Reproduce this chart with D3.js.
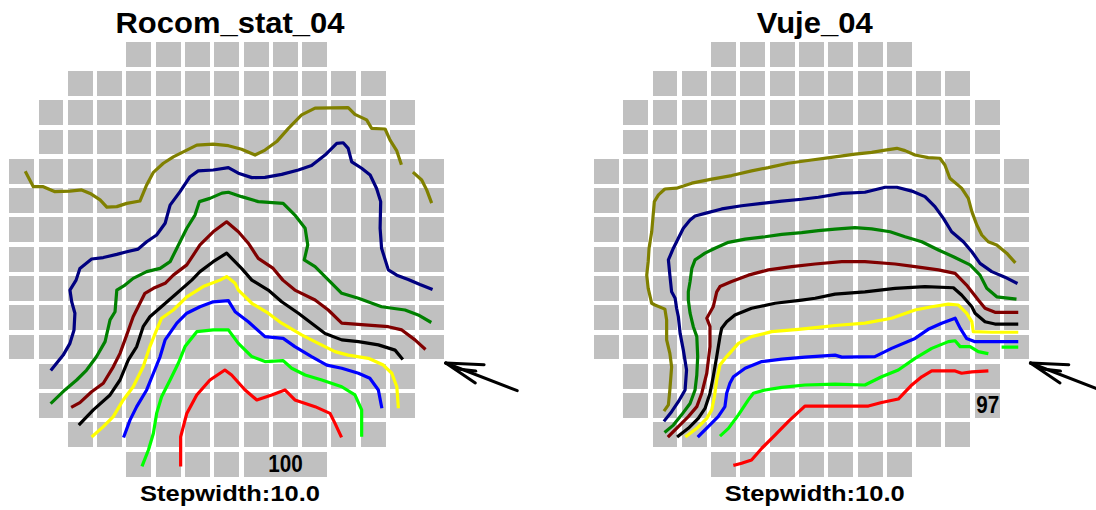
<!DOCTYPE html>
<html>
<head>
<meta charset="utf-8">
<script src="https://cdn.jsdelivr.net/npm/d3@7/dist/d3.min.js"></script>
<style>
  html, body { margin: 0; padding: 0; background: #ffffff; }
  svg { display: block; }
</style>
</head>
<body>
<svg id="chart" width="1096" height="510"></svg>
<script>
// ---- Core layout: 15 x 15 assembly positions, first/last column of every row ----
const rowFirst = [4, 2, 1, 1, 0, 0, 0, 0, 0, 0, 0, 1, 1, 2, 4];
const rowLast  = [10, 12, 13, 13, 14, 14, 14, 14, 14, 14, 14, 13, 13, 12, 10];

// ---- Contour levels (outermost to innermost) ----
const levels = [10, 20, 30, 40, 50, 60, 70, 80, 90];
const levelColors = ["#808000", "#000080", "#008000", "#800000", "#000000",
                     "#ffff00", "#0000ff", "#00ff00", "#ff0000"];

// ---- Rocom_stat_04 contours, in assembly units [column, row]; null breaks a line ----
const rocom10 = [[0.57,4.47],[0.82,4.95],[1.16,4.95],[1.56,5.12],[2.07,5.10],[2.47,5.06],[2.76,5.18],[3.10,5.40],[3.33,5.65],[3.67,5.63],[4.01,5.52],[4.46,5.44],[4.69,4.89],[4.92,4.46],[5.26,4.15],[5.60,3.93],[6.06,3.70],[6.40,3.53],[6.96,3.50],[7.48,3.55],[7.93,3.67],[8.39,3.87],[8.73,3.70],[9.13,3.41],[9.53,2.96],[9.98,2.50],[10.44,2.27],[11.57,2.25],[11.80,2.48],[12.20,2.67],[12.37,2.96],[12.83,2.98],[13.00,3.36],[13.23,3.73],[13.37,4.15],
  null,[13.82,4.49],[14.08,4.72],[14.25,5.06],[14.40,5.46]];
const rocom20 = [[1.45,11.18],[1.84,10.70],[2.07,10.30],[2.21,9.84],[2.24,9.27],[2.13,8.88],[2.07,8.48],[2.28,8.14],[2.41,7.74],[2.81,7.42],[3.21,7.37],[3.67,7.26],[4.01,7.17],[4.40,7.08],[4.69,6.83],[5.03,6.60],[5.32,6.20],[5.49,5.58],[5.83,5.12],[6.17,4.61],[6.45,4.41],[6.96,4.38],[7.48,4.30],[7.82,4.49],[8.28,4.64],[8.73,4.63],[9.30,4.53],[9.87,4.38],[10.32,4.23],[10.78,3.87],[11.18,3.47],[11.40,3.45],[11.57,3.64],[11.69,4.10],[12.03,4.32],[12.32,4.55],[12.54,5.01],[12.68,5.46],[12.66,6.37],[12.71,7.05],[12.94,7.79],[13.23,7.97],[13.62,8.12],[14.02,8.29],[14.40,8.44]];
const rocom30 = [[1.45,12.32],[1.90,11.89],[2.30,11.55],[2.64,11.21],[2.98,10.75],[3.27,10.24],[3.44,9.50],[3.61,9.22],[3.67,8.48],[3.95,8.31],[4.23,8.08],[4.69,7.85],[5.15,7.74],[5.49,7.51],[5.72,7.05],[6.06,6.37],[6.34,5.92],[6.49,5.46],[6.85,5.35],[7.26,5.17],[7.48,5.14],[7.93,5.29],[8.50,5.46],[9.35,5.52],[9.75,5.92],[10.10,6.37],[10.19,6.94],[10.07,7.45],[10.44,7.68],[11.01,8.25],[11.35,8.59],[11.92,8.76],[12.71,9.05],[13.51,9.16],[13.96,9.33],[14.36,9.56]];
const rocom40 = [[2.16,12.46],[2.41,12.32],[2.81,11.95],[3.21,11.66],[3.55,11.10],[3.78,10.64],[4.01,10.01],[4.23,9.39],[4.46,8.93],[4.63,8.59],[4.92,8.42],[5.32,8.25],[5.60,7.97],[6.06,7.62],[6.51,6.94],[6.96,6.49],[7.42,6.15],[7.82,6.49],[8.16,6.88],[8.50,7.40],[9.01,7.74],[9.34,8.14],[9.75,8.48],[10.44,8.82],[10.89,9.16],[11.35,9.61],[12.14,9.67],[12.94,9.73],[13.40,9.84],[13.85,10.18],[14.17,10.47]];
const rocom50 = [[2.41,13.05],[2.87,12.57],[3.44,12.06],[3.78,11.55],[4.06,10.87],[4.35,10.41],[4.57,9.73],[4.80,9.39],[5.26,8.99],[5.72,8.59],[6.23,8.14],[6.51,7.85],[6.96,7.51],[7.42,7.22],[7.93,7.74],[8.28,8.14],[8.84,8.48],[9.30,8.88],[9.87,9.27],[10.32,9.61],[10.78,9.96],[11.35,10.18],[11.92,10.24],[12.60,10.35],[13.17,10.53],[13.40,10.81]];
const rocom60 = [[2.85,13.46],[3.21,13.14],[3.55,12.80],[3.89,12.23],[4.23,11.78],[4.57,11.10],[4.80,10.41],[5.03,9.84],[5.20,9.44],[5.60,9.16],[6.06,8.71],[6.62,8.36],[7.19,8.14],[7.42,8.02],[7.71,8.25],[7.82,8.48],[8.28,8.93],[8.84,9.27],[9.30,9.61],[9.98,10.01],[10.55,10.30],[11.12,10.58],[11.57,10.70],[12.26,10.81],[12.77,11.04],[13.06,11.32],[13.23,11.78],[13.28,12.46]];
const rocom70 = [[3.92,13.46],[4.12,12.92],[4.35,12.46],[4.69,11.89],[4.92,11.32],[5.15,10.75],[5.32,10.18],[5.72,9.61],[6.06,9.27],[6.51,9.05],[6.96,8.88],[7.48,8.84],[7.71,9.22],[8.16,9.56],[8.73,10.07],[9.35,10.13],[9.75,10.41],[10.32,10.75],[10.84,11.04],[11.35,11.15],[11.92,11.32],[12.31,11.49],[12.60,11.89],[12.71,12.46]];
const rocom80 = [[4.55,14.45],[4.75,13.94],[4.92,13.37],[5.03,12.69],[5.20,12.12],[5.49,11.55],[5.77,10.98],[6.00,10.41],[6.40,9.90],[6.96,9.84],[7.48,9.84],[7.82,10.30],[8.28,10.75],[8.73,10.92],[9.35,10.89],[9.64,11.15],[10.10,11.38],[10.67,11.55],[11.35,11.78],[11.80,12.06],[12.03,12.57],[12.03,13.43]];
const rocom90 = [[5.85,14.45],[5.85,13.49],[6.06,12.69],[6.40,12.06],[6.85,11.55],[7.36,11.21],[7.59,11.38],[8.05,11.89],[8.45,12.23],[8.96,12.06],[9.41,11.89],[9.75,12.23],[10.44,12.46],[10.95,12.69],[11.12,13.03],[11.32,13.46]];

// ---- Vuje_04 contours ----
const vuje10 = [[2.42,12.57],[2.54,12.40],[2.59,11.89],[2.65,11.10],[2.59,10.64],[2.48,10.18],[2.48,9.50],[2.42,9.13],[2.08,8.99],[1.97,8.93],[1.85,8.42],[1.80,7.97],[1.85,7.51],[1.88,7.05],[1.97,6.49],[2.02,5.92],[2.06,5.46],[2.20,5.23],[2.42,5.03],[2.82,5.00],[3.34,4.83],[4.02,4.69],[4.70,4.57],[5.38,4.41],[5.95,4.30],[6.63,4.15],[7.43,4.04],[8.23,3.93],[8.91,3.84],[9.48,3.78],[9.94,3.70],[10.34,3.64],[10.62,3.72],[10.96,3.87],[11.41,3.96],[11.81,3.98],[11.98,4.21],[12.15,4.66],[12.55,5.00],[12.78,5.35],[12.90,5.80],[13.07,6.26],[13.24,6.60],[13.46,6.83],[13.75,6.94],[14.09,7.22],[14.35,7.51]];
const vuje20 = [[2.42,12.92],[2.65,12.63],[2.88,12.29],[3.11,11.89],[3.16,11.21],[3.05,10.53],[2.94,9.96],[2.88,9.39],[2.82,9.10],[2.77,8.76],[2.65,8.54],[2.59,7.97],[2.54,7.45],[2.71,7.05],[2.88,6.71],[3.05,6.37],[3.28,6.09],[3.45,5.95],[3.79,5.86],[4.36,5.71],[5.04,5.60],[5.73,5.52],[6.41,5.44],[7.09,5.38],[7.66,5.31],[8.46,5.18],[9.25,5.14],[9.94,4.97],[10.34,4.97],[10.85,5.10],[11.30,5.29],[11.64,5.63],[11.93,6.03],[12.21,6.49],[12.61,6.83],[12.90,7.17],[13.18,7.57],[13.58,7.85],[14.03,8.04],[14.41,8.23]];
const vuje30 = [[2.45,13.31],[2.71,13.09],[2.99,12.74],[3.28,12.35],[3.45,11.89],[3.51,11.38],[3.54,10.75],[3.51,10.07],[3.39,9.73],[3.28,9.27],[3.22,8.82],[3.22,8.54],[3.28,8.19],[3.34,7.74],[3.45,7.45],[3.79,7.22],[4.13,7.05],[4.59,6.85],[5.16,6.74],[5.84,6.66],[6.41,6.58],[7.09,6.52],[7.66,6.45],[8.23,6.40],[8.91,6.35],[9.48,6.39],[10.11,6.49],[10.62,6.66],[11.19,6.83],[11.76,7.11],[12.27,7.34],[12.84,7.62],[13.18,7.97],[13.41,8.42],[13.75,8.71],[14.37,8.78]];
const vuje40 = [[2.56,13.46],[2.88,13.14],[3.22,12.80],[3.51,12.46],[3.68,12.00],[3.85,11.32],[3.96,10.41],[3.96,9.73],[3.85,9.44],[4.07,9.05],[4.19,8.54],[4.30,8.36],[4.70,8.19],[5.27,7.97],[5.95,7.79],[6.75,7.68],[7.55,7.59],[8.46,7.51],[9.25,7.51],[10.28,7.59],[10.96,7.68],[11.76,7.79],[12.33,7.91],[12.72,8.31],[13.12,8.82],[13.35,9.10],[13.69,9.24],[14.43,9.24]];
const vuje50 = [[2.88,13.46],[3.22,13.20],[3.56,12.86],[3.79,12.52],[3.96,12.00],[4.07,11.44],[4.19,10.75],[4.30,10.07],[4.36,9.78],[4.53,9.56],[4.81,9.33],[5.38,9.10],[6.18,8.93],[7.09,8.82],[7.55,8.76],[8.23,8.62],[9.25,8.54],[10.28,8.42],[11.30,8.36],[12.27,8.40],[12.55,8.65],[12.90,9.05],[13.01,9.27],[13.35,9.56],[13.69,9.64],[14.43,9.64]];
const vuje60 = [[3.16,13.46],[3.51,13.20],[3.85,12.86],[4.02,12.57],[4.11,12.12],[4.19,11.55],[4.30,11.04],[4.53,10.75],[4.93,10.30],[5.38,10.07],[6.07,9.90],[6.98,9.82],[7.89,9.73],[8.23,9.69],[9.25,9.61],[10.16,9.44],[10.96,9.16],[11.53,9.05],[12.10,8.96],[12.44,8.99],[12.72,9.27],[12.90,9.56],[12.95,9.90],[13.58,9.92],[14.43,9.92]];
const vuje70 = [[3.58,13.46],[3.90,13.14],[4.24,12.80],[4.47,12.46],[4.53,12.00],[4.64,11.66],[4.76,11.44],[5.16,11.15],[5.73,10.92],[6.41,10.84],[7.20,10.77],[8.23,10.70],[8.46,10.77],[9.59,10.75],[10.16,10.47],[10.96,10.13],[11.41,9.82],[11.87,9.61],[12.33,9.44],[12.50,9.78],[12.72,10.13],[13.01,10.24],[13.69,10.24],[14.43,10.24]];
const vuje80 = [[4.34,13.43],[4.59,13.20],[4.93,12.74],[5.27,12.23],[5.44,12.00],[5.84,11.89],[6.41,11.80],[7.20,11.72],[8.23,11.69],[9.25,11.72],[9.82,11.44],[10.39,11.21],[10.96,10.81],[11.53,10.47],[12.10,10.24],[12.33,10.21],[12.50,10.41],[12.84,10.41],[13.12,10.58],[13.41,10.64],
  null,[13.97,10.43],[14.43,10.43]];
const vuje90 = [[4.81,14.45],[5.04,14.39],[5.38,14.28],[5.73,13.88],[6.18,13.43],[6.63,12.97],[7.20,12.44],[8.23,12.44],[9.37,12.44],[9.82,12.32],[10.39,12.20],[10.85,11.72],[11.19,11.44],[11.53,11.24],[12.33,11.24],[12.55,11.32],[12.90,11.27],[13.41,11.24]];

// ---- Panels ----
const panels = [
  { title: "Rocom_stat_04", titleWidth: 229, lines: [rocom10, rocom20, rocom30, rocom40, rocom50, rocom60, rocom70, rocom80, rocom90],
    peak: "100", peakAt: [9.43, 14.69], peakCells: [8, 10, 14], left: 9.3 },
  { title: "Vuje_04", titleWidth: 116, lines: [vuje10, vuje20, vuje30, vuje40, vuje50, vuje60, vuje70, vuje80, vuje90],
    peak: "97", peakAt: [13.44, 12.69], peakCells: [13, 13, 12], left: 594.0 }
];
const stepLabel = "Stepwidth:10.0";
const arrowTip = [14.9, 10.97];   // inlet marker position, assembly units

// ---- Drawing ----
const pitch = 29.29, gap = 4.4, gridTop = 41.7;
const svg = d3.select("#chart");
const y = d3.scaleLinear().domain([0, 15]).range([gridTop, gridTop + 15 * pitch]);

panels.forEach(panel => {
  const x = d3.scaleLinear().domain([0, 15]).range([panel.left, panel.left + 15 * pitch]);
  const g = svg.append("g");

  // assembly cells
  const cells = [];
  rowFirst.forEach((c0, r) => { for (let c = c0; c <= rowLast[r]; c++) cells.push([c, r]); });
  g.selectAll("rect.cell").data(cells).join("rect")
    .attr("class", "cell")
    .attr("x", d => x(d[0])).attr("y", d => y(d[1]))
    .attr("width", x(1) - x(0) - gap).attr("height", y(1) - y(0) - gap)
    .attr("fill", "#c0c0c0")
    .attr("shape-rendering", "crispEdges");

  // contour lines
  const line = d3.line()
    .defined(d => d !== null)
    .x(d => x(d[0])).y(d => y(d[1]));
  g.selectAll("path.level").data(panel.lines).join("path")
    .attr("class", "level")
    .attr("d", line)
    .attr("fill", "none")
    .attr("stroke", (d, i) => levelColors[i])
    .attr("stroke-width", 3.2)
    .attr("stroke-linejoin", "round")
    .attr("stroke-linecap", "square");

  // maximum value label on its own gray field
  const [c0, c1, r] = panel.peakCells;
  g.append("rect")
    .attr("x", x(c0)).attr("y", y(r))
    .attr("width", x(c1 + 1) - x(c0) - gap).attr("height", y(1) - y(0) - gap)
    .attr("fill", "#c0c0c0")
    .attr("shape-rendering", "crispEdges");
  g.append("text")
    .attr("x", x(panel.peakAt[0])).attr("y", y(panel.peakAt[1]))
    .attr("text-anchor", "middle")
    .attr("font-family", "Liberation Sans, Arial, sans-serif")
    .attr("font-weight", "bold").attr("font-size", 24)
    .attr("textLength", panel.peak.length * 11.5).attr("lengthAdjust", "spacingAndGlyphs")
    .attr("fill", "#000")
    .text(panel.peak);

  // title
  const cx = x(7.5) + 1;
  g.append("text")
    .attr("x", cx).attr("y", 33.3)
    .attr("text-anchor", "middle")
    .attr("font-family", "Liberation Sans, Arial, sans-serif")
    .attr("font-weight", "bold").attr("font-size", 30)
    .attr("textLength", panel.titleWidth).attr("lengthAdjust", "spacingAndGlyphs")
    .attr("fill", "#000")
    .text(panel.title);

  // step width
  g.append("text")
    .attr("x", cx).attr("y", 501)
    .attr("text-anchor", "middle")
    .attr("font-family", "Liberation Sans, Arial, sans-serif")
    .attr("font-weight", "bold").attr("font-size", 22)
    .attr("textLength", 180).attr("lengthAdjust", "spacingAndGlyphs")
    .attr("fill", "#000")
    .text(stepLabel);

  // inlet arrow
  const tx = x(arrowTip[0]), ty = y(arrowTip[1]);
  const arrow = g.append("g").attr("transform", `translate(${tx},${ty})`)
    .attr("stroke", "#000").attr("stroke-width", 3).attr("fill", "none")
    .attr("stroke-linecap", "round");
  arrow.append("path").attr("d", "M0,0 L71.5,27.7");
  arrow.append("path").attr("d", "M0,0 L38.4,1.7");
  arrow.append("path").attr("d", "M0,0 L29.6,20");
  arrow.append("path").attr("d", "M12,6 L30,8");
});
</script>
</body>
</html>
